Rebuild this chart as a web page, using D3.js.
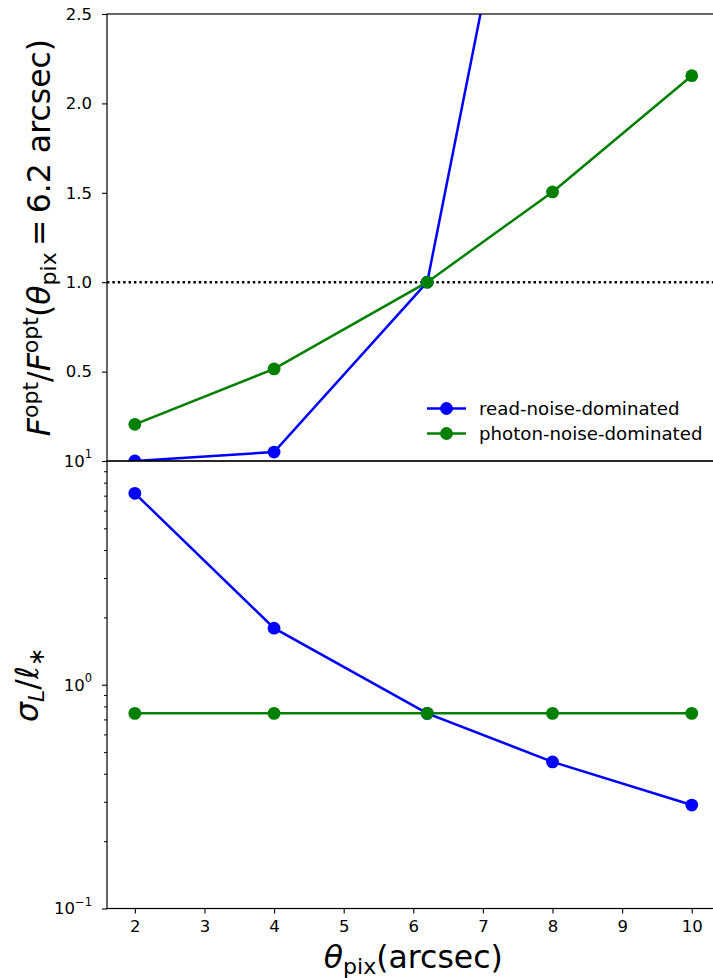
<!DOCTYPE html>
<html>
<head>
<meta charset="utf-8">
<script src="https://cdn.jsdelivr.net/npm/d3@7"></script>
<style>
  html, body { margin: 0; padding: 0; background: #fff; }
  svg { display: block; }
  svg text { font-family: "DejaVu Sans", sans-serif; }
</style>
</head>
<body>
<svg id="chart" width="713" height="978"></svg>
<script>
// Pixel scale in arcsec
const thetaPix = [2, 4, 6.2, 8, 10];
// Optimal flux relative to theta_pix = 6.2 arcsec
const fRatioRead = [0.0, 0.05, 1.0, 4.53, 9.0];
const fRatioPhoton = [0.205, 0.515, 1.0, 1.505, 2.155];
// Luminosity uncertainty sigma_L / l_*
const sigmaRead = [7.17, 1.79, 0.745, 0.452, 0.29];
const sigmaPhoton = [0.745, 0.745, 0.745, 0.745, 0.745];

const seriesNames = ["read-noise-dominated", "photon-noise-dominated"];
const seriesColors = ["#0000ff", "#008000"];
const xTicks = [2, 3, 4, 5, 6, 7, 8, 9, 10];
const topTicks = [0.5, 1.0, 1.5, 2.0, 2.5];
const logMajor = [0.1, 1, 10];
const logMajorLabels = [["10", "\u22121"], ["10", "0"], ["10", "1"]];

const svg = d3.select("#chart");
const left = 107, right = 719.6;
const topY0 = 14, midY = 461, botY1 = 908.5;

const x = d3.scaleLinear().domain([1.6, 10.4]).range([left, right]);
const yTop = d3.scaleLinear().domain([0, 2.5]).range([midY, topY0]);
const yBot = d3.scaleLog().domain([0.1, 10]).range([botY1, midY]);

const defs = svg.append("defs");
defs.append("clipPath").attr("id", "clipTop").append("rect")
  .attr("x", left).attr("y", topY0).attr("width", right - left).attr("height", midY - topY0);
defs.append("clipPath").attr("id", "clipBot").append("rect")
  .attr("x", left).attr("y", midY).attr("width", right - left).attr("height", botY1 - midY);

const tickFont = 16.5;
const lineW = 2.5, markR = 6.4;
const FONT = "DejaVu Sans";

function styleTicks(ax) {
  ax.attr("font-family", FONT).attr("font-size", tickFont);
  ax.select(".domain").remove();
  ax.selectAll(".tick line").attr("stroke", "#000").attr("stroke-width", 1.1);
  ax.selectAll(".tick text").attr("fill", "#000").attr("font-size", tickFont);
}

// ---------- top panel ----------
const gTop = svg.append("g");
// reference line at unity
gTop.append("line")
  .attr("x1", left).attr("x2", right)
  .attr("y1", yTop(1)).attr("y2", yTop(1))
  .attr("stroke", "#000").attr("stroke-width", 2.4)
  .attr("stroke-dasharray", "2.4,3");

const lineTop = d3.line().x((d, i) => x(thetaPix[i])).y(d => yTop(d));
const topSeries = [fRatioRead, fRatioPhoton];
const plotTop = gTop.append("g").attr("clip-path", "url(#clipTop)");
topSeries.forEach((vals, k) => {
  plotTop.append("path").datum(vals)
    .attr("d", lineTop).attr("fill", "none")
    .attr("stroke", seriesColors[k]).attr("stroke-width", lineW);
  plotTop.selectAll(null).data(vals).enter().append("circle")
    .attr("cx", (d, i) => x(thetaPix[i])).attr("cy", d => yTop(d))
    .attr("r", markR).attr("fill", seriesColors[k]);
});

const axTop = gTop.append("g").attr("transform", `translate(${left},0)`)
  .call(d3.axisLeft(yTop).tickValues(topTicks).tickFormat(d3.format(".1f"))
    .tickSize(5).tickPadding(10));
styleTicks(axTop);

// frame
gTop.append("rect").attr("x", left).attr("y", topY0)
  .attr("width", right - left).attr("height", midY - topY0)
  .attr("fill", "none").attr("stroke", "#000").attr("stroke-width", 1.2);

// legend
const leg = gTop.append("g");
seriesNames.forEach((name, k) => {
  const yy = 408.5 + k * 25;
  leg.append("line").attr("x1", 427).attr("x2", 466).attr("y1", yy).attr("y2", yy)
    .attr("stroke", seriesColors[k]).attr("stroke-width", lineW);
  leg.append("circle").attr("cx", 446.5).attr("cy", yy).attr("r", markR).attr("fill", seriesColors[k]);
  leg.append("text").attr("x", 479).attr("y", yy).attr("dy", "0.36em")
    .attr("font-size", 18.2).attr("fill", "#000").text(name);
});

// ---------- bottom panel ----------
const gBot = svg.append("g");
const lineBot = d3.line().x((d, i) => x(thetaPix[i])).y(d => yBot(d));
const botSeries = [sigmaRead, sigmaPhoton];
const plotBot = gBot.append("g").attr("clip-path", "url(#clipBot)");
botSeries.forEach((vals, k) => {
  plotBot.append("path").datum(vals)
    .attr("d", lineBot).attr("fill", "none")
    .attr("stroke", seriesColors[k]).attr("stroke-width", lineW);
  plotBot.selectAll(null).data(vals).enter().append("circle")
    .attr("cx", (d, i) => x(thetaPix[i])).attr("cy", d => yBot(d))
    .attr("r", markR).attr("fill", seriesColors[k]);
});

// minor log ticks
const minorVals = [];
[0.1, 1].forEach(b => { for (let m = 2; m <= 9; m++) minorVals.push(b * m); });
const axBotMinor = gBot.append("g").attr("transform", `translate(${left},0)`)
  .call(d3.axisLeft(yBot).tickValues(minorVals).tickFormat("").tickSize(3));
axBotMinor.select(".domain").remove();
axBotMinor.selectAll(".tick line").attr("stroke", "#000").attr("stroke-width", 1);

const axBot = gBot.append("g").attr("transform", `translate(${left},0)`)
  .call(d3.axisLeft(yBot).tickValues(logMajor).tickFormat("").tickSize(5).tickPadding(10));
styleTicks(axBot);
axBot.selectAll(".tick text").each(function(d) {
  const t = d3.select(this).text(null);
  const lab = logMajorLabels[logMajor.indexOf(d)];
  t.append("tspan").text(lab[0]);
  t.append("tspan").attr("font-size", tickFont * 0.7).attr("dy", "-0.72em").text(lab[1]);
});

const axX = gBot.append("g").attr("transform", `translate(0,${botY1})`)
  .call(d3.axisBottom(x).tickValues(xTicks).tickFormat(d3.format("d")).tickSize(5).tickPadding(7));
styleTicks(axX);

gBot.append("rect").attr("x", left).attr("y", midY)
  .attr("width", right - left).attr("height", botY1 - midY)
  .attr("fill", "none").attr("stroke", "#000").attr("stroke-width", 1.2);

// ---------- axis labels ----------
const labFont = 31.5;
// x label: theta_pix (arcsec)
const xl = svg.append("text").attr("x", (left + right) / 2).attr("y", 968)
  .attr("text-anchor", "middle").attr("font-size", labFont).attr("fill", "#000");
xl.append("tspan").attr("font-style", "italic").text("\u03b8");
xl.append("tspan").attr("font-size", labFont * 0.7).attr("dy", 6).text("pix");
xl.append("tspan").attr("dy", -6).text("(arcsec)");

// top y label: F^opt / F^opt(theta_pix = 6.2 arcsec)
const yl1 = svg.append("text")
  .attr("transform", `translate(50,${(topY0 + midY) / 2}) rotate(-90)`)
  .attr("text-anchor", "middle").attr("font-size", labFont).attr("fill", "#000");
yl1.append("tspan").attr("font-style", "italic").text("F");
yl1.append("tspan").attr("font-size", labFont * 0.7).attr("dy", -12).text("opt");
yl1.append("tspan").attr("dy", 12).text("/");
yl1.append("tspan").attr("font-style", "italic").text("F");
yl1.append("tspan").attr("font-size", labFont * 0.7).attr("dy", -12).text("opt");
yl1.append("tspan").attr("dy", 12).text("(");
yl1.append("tspan").attr("font-style", "italic").text("\u03b8");
yl1.append("tspan").attr("font-size", labFont * 0.7).attr("dy", 6).text("pix");
yl1.append("tspan").attr("dy", -6).text("\u2009=\u20096.2 arcsec)");

// bottom y label: sigma_L / l_*
const yl2 = svg.append("text")
  .attr("transform", `translate(38,${(midY + botY1) / 2}) rotate(-90)`)
  .attr("text-anchor", "middle").attr("font-size", labFont).attr("fill", "#000");
yl2.append("tspan").attr("font-style", "italic").text("\u03c3");
yl2.append("tspan").attr("font-size", labFont * 0.7).attr("font-style", "italic").attr("dy", 6).text("L");
yl2.append("tspan").attr("dy", -6).text("/");
yl2.append("tspan").attr("font-style", "italic").text("\u2113");
yl2.append("tspan").attr("font-size", labFont * 0.7).attr("dy", 6).text("\u2217");
</script>
</body>
</html>
